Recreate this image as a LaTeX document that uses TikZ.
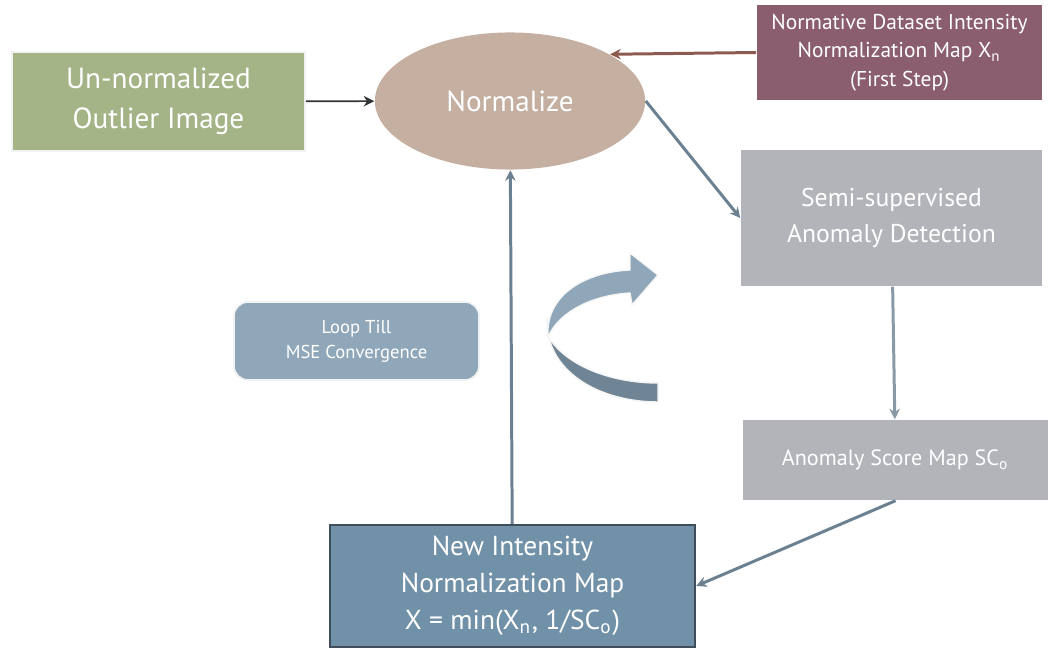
\documentclass[tikz,border=0pt]{standalone}
\usepackage{fontspec}
\setmainfont{PT Sans}
\usepackage{tikz}
\usetikzlibrary{positioning,arrows.meta,shapes.geometric}

\definecolor{olive}{HTML}{A4B486}
\definecolor{tan}{HTML}{C4AFA1}
\definecolor{plum}{HTML}{8A5D6F}
\definecolor{ash}{HTML}{B2B4B9}
\definecolor{steel}{HTML}{7191A8}
\definecolor{steeldark}{HTML}{3F4E5A}
\definecolor{mist}{HTML}{8FA7B9}
\definecolor{slate}{HTML}{6B8090}
\definecolor{rust}{HTML}{8C5A4E}
\definecolor{ribbon}{HTML}{6F8596}

\tikzset{
  blk/.style={rectangle, text=white, align=center, inner sep=1pt},
  link/.style={draw=slate, line width=0.85pt, -{Stealth[length=3pt,width=3pt]}},
}

\begin{document}
\begin{tikzpicture}[x=0.01cm, y=-0.01cm]
\useasboundingbox (0,0) rectangle (1048,649);

% boxes
\node[blk, fill=olive, draw=white!90!gray, line width=0.5pt, minimum width=2.93cm, minimum height=0.99cm,
  font=\fontsize{8.3}{11.4}\selectfont] (raw) at (158.5,101.5) {Un-normalized\\Outlier Image};
\node[ellipse, fill=tan, text=white, minimum width=2.7cm, minimum height=1.37cm, inner sep=0pt,
  font=\fontsize{8.3}{11}\selectfont] (norm) at (510,101) {Normalize};
\node[blk, fill=plum, minimum width=2.85cm, minimum height=0.95cm,
  font=\fontsize{6.1}{8.1}\selectfont] (nmap) at (899.5,52.5) {Normative Dataset Intensity\\Normalization Map X\textsubscript{n}\\(First Step)};
\node[blk, fill=ash, minimum width=3.01cm, minimum height=1.36cm,
  font=\fontsize{7.3}{10}\selectfont] (semi) at (891.5,218) {Semi-supervised\\Anomaly Detection};
\node[blk, fill=ash, minimum width=3.05cm, minimum height=0.8cm,
  font=\fontsize{6.3}{8}\selectfont] (score) at (895.5,460) {Anomaly Score Map SC\textsubscript{o}};
\node[blk, fill=steel, draw=steeldark, line width=0.6pt, minimum width=3.65cm, minimum height=1.22cm,
  font=\fontsize{7.8}{10.5}\selectfont] (new) at (512.5,586) {New Intensity\\Normalization Map\\X = min(X\textsubscript{n}, 1/SC\textsubscript{o})};
\node[blk, fill=mist, draw=white!90!gray, line width=0.5pt, rounded corners=4pt, minimum width=2.45cm, minimum height=0.78cm,
  font=\fontsize{5.3}{7.1}\selectfont] (loop) at (356.5,341) {Loop Till\\MSE Convergence};

% curved arrow
\fill[ribbon, draw=white!92!gray, line width=0.4pt]
  (547,318) .. controls (545,372) and (600,402) .. (658,402) -- (658,383)
  .. controls (610,383) and (565,365) .. (548,336) -- cycle;
\fill[mist, draw=white!92!gray, line width=0.4pt]
  (548,337) .. controls (545,295) and (585,272) .. (630,270) -- (630,253) -- (658,275)
  -- (632,305) -- (630,293) .. controls (595,295) and (560,310) .. (548,337) -- cycle;

% connectors
\draw[draw=black!80, line width=0.45pt, -{Stealth[length=3pt,width=3pt]}] (raw) -- (norm);
\draw[draw=rust, line width=0.85pt, -{Stealth[length=3pt,width=3pt]}] (nmap.west) -- (norm.25);
\draw[link] (norm.east) -- (semi.west);
\draw[link, draw=slate!80] (semi) -- (score);
\draw[link] (score.south) -- (new.east);
\draw[link] (new) -- (norm);
\end{tikzpicture}
\end{document}
